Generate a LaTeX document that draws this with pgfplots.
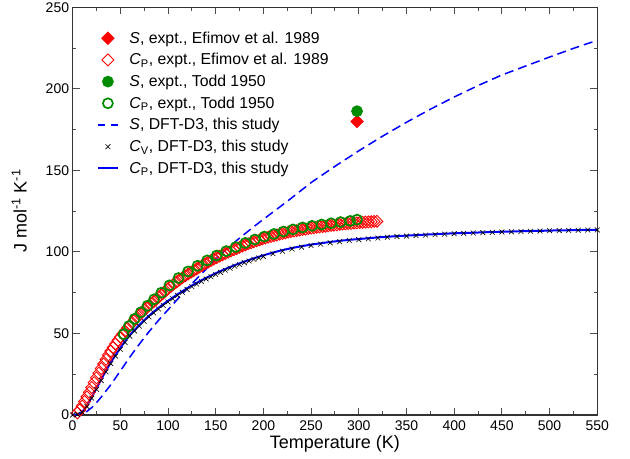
\documentclass[border=0pt]{standalone}
\usepackage{fontspec}
\setmainfont{Liberation Sans}
\usepackage{pgfplots}
\usepackage{pgfplotstable}
\pgfplotsset{compat=1.18}
\definecolor{grgreen}{RGB}{0,140,0}

% Cp, expt., Efimov et al. 1989
\pgfplotstableread{
T Cp
5 1.3
7.5 3.1
10 5.5
12.5 8.3
15 11.1
17.5 13.9
20 16.9
22.5 19.9
25 22.8
27.5 25.7
30 28.5
32.5 31.3
35 34.1
37.5 36.8
40 39.2
42.5 41.4
45 43.6
47.5 45.8
50 47.8
52.5 49.7
55 51.5
57.5 53.3
60 55.0
62.5 56.6
65 58.3
67.5 59.9
70 61.5
72.5 62.9
75 64.4
77.5 65.7
80 67.0
82.5 68.2
85 69.5
87.5 70.8
90 72.2
92.5 73.5
95 74.8
97.5 76.1
100 77.4
103 78.9
106 80.3
109 81.6
112 82.9
115 84.1
118 85.3
121 86.4
124 87.5
127 88.6
130 89.6
133 90.7
136 91.7
139 92.7
142 93.7
145 94.7
148 95.6
151 96.5
154 97.4
157 98.2
160 99.0
163 99.8
166 100.6
169 101.4
172 102.1
175 102.8
178 103.6
181 104.3
184 105.0
187 105.6
190 106.2
193 106.8
196 107.4
199 108.0
202 108.5
205 109.0
208 109.5
211 110.0
214 110.4
217 110.9
220 111.3
223 111.7
226 112.1
229 112.5
232 112.8
235 113.1
238 113.4
241 113.7
244 114.0
247 114.3
250 114.6
253 114.8
256 115.1
259 115.3
262 115.5
265 115.7
268 116.0
271 116.2
274 116.4
277 116.6
280 116.9
283 117.1
286 117.2
289 117.4
292 117.5
295 117.7
298 117.8
301 118.0
304 118.1
307 118.3
310 118.4
313 118.5
316 118.7
319 118.8
}\efimov

% Cp, expt., Todd 1950
\pgfplotstableread{
T Cp
53.5 49.5
59 54.5
65 59.0
71.5 63.0
78.5 67.0
85.5 71.0
93 75.0
101.5 79.5
111 84.0
121 88.0
131 91.5
141 94.8
151 97.8
161 100.5
171 103.0
181 105.5
191 107.6
201 109.4
211 111.0
221 112.5
231 113.8
241 115.0
251 116.0
261 116.8
271 117.6
281 118.3
291 119.0
298.2 119.8
}\todd

% S, DFT-D3
\pgfplotstableread{
T S
0 0
5 0.1
10 0.7
15 2.2
20 4.5
25 7.5
30 11.0
40 18.5
50 27.0
60 35.5
70 43.5
80 51.0
90 58.0
100 64.5
110 71.0
120 77.5
130 83.5
140 89.5
150 95.5
160 101.0
175 108.5
190 115.5
200 120.0
225 131.0
250 142.5
275 152.5
300 162.0
325 171.0
350 179.5
375 187.5
400 195.0
425 202.0
450 208.5
475 214.0
500 219.5
525 224.8
550 229.8
}\sdft

% Cp and Cv, DFT-D3
\pgfplotstableread{
T Cp Cv
0 0 0
5 0.3 0.3
10 1.8 1.7
15 5.5 5.2
20 10.8 10.3
25 16.3 15.7
30 21.8 21.1
35 27.2 26.5
40 32.2 31.5
45 36.8 36.1
50 41.0 40.3
55 45.2 44.5
60 49.0 48.3
65 52.2 51.5
70 55.2 54.5
75 58.1 57.4
80 60.8 60.1
85 63.3 62.6
90 65.7 65.0
95 67.9 67.2
100 70.0 69.3
105 72.0 71.3
110 74.0 73.3
115 75.9 75.2
120 77.7 77.0
125 79.4 78.7
130 81.0 80.3
135 82.6 81.9
140 84.1 83.4
145 85.5 84.8
150 86.9 86.2
155 88.2 87.5
160 89.5 88.8
165 90.7 90.0
170 91.9 91.2
175 93.0 92.3
180 94.1 93.4
185 95.1 94.4
190 96.1 95.4
195 97.0 96.3
200 97.9 97.2
210 99.6 98.9
220 101.1 100.4
230 102.4 101.8
240 103.5 102.9
250 104.5 103.9
260 105.3 104.8
270 106.1 105.6
280 106.8 106.3
290 107.4 107.0
300 107.9 107.5
310 108.4 108.0
320 108.9 108.5
330 109.3 109.0
340 109.7 109.4
350 110.0 109.7
360 110.3 110.0
370 110.6 110.3
380 110.9 110.6
390 111.2 110.9
400 111.4 111.2
410 111.6 111.4
420 111.8 111.6
430 112.0 111.8
440 112.2 112.0
450 112.4 112.2
460 112.5 112.3
470 112.7 112.5
480 112.8 112.7
490 112.9 112.8
500 113.1 113.0
510 113.2 113.1
520 113.3 113.2
530 113.4 113.3
540 113.5 113.4
550 113.6 113.5
}\cdft

\begin{document}
\begin{tikzpicture}
\useasboundingbox (-72.6bp,-44bp) rectangle (557.4bp,415bp);
\begin{axis}[
  anchor=south west, at={(0,0)},
  scale only axis,
  width=524.7bp, height=407.7bp,
  xmin=0, xmax=550, ymin=0, ymax=250,
  xtick={0,50,...,550}, ytick={0,50,...,250},
  minor x tick num=1, minor y tick num=1,
  tick align=inside,
  major tick length=7bp, minor tick length=3.5bp,
  axis line style={line width=1.4bp, black!80},
  tick style={line width=0.9bp, black!70},
  tick label style={font=\fontsize{14bp}{16bp}\selectfont},
  /pgf/number format/assume math mode=true,
  xticklabel style={anchor=base, yshift=-15.7bp},
  xlabel={Temperature (K)},
  ylabel={J mol\textsuperscript{-1} K\textsuperscript{-1}},
  label style={font=\fontsize{18bp}{20bp}\selectfont},
  xlabel style={at={(axis description cs:0.5,0)}, anchor=base, yshift=-33bp},
  ylabel style={at={([xshift=-46bp]axis description cs:0,0.5)}, anchor=base},
  clip=false,
  legend cell align=left,
  legend style={at={(axis description cs:0,1)}, anchor=north west,
    xshift=24.1bp, yshift=-19.85bp, draw=none, fill=none, inner sep=0pt,
    row sep=0pt, font=\fontsize{15.8bp}{18bp}\selectfont,
    nodes={inner sep=2bp, text depth=0.15em}},
  legend image code/.code={
    \path[draw=none, fill=none] (0bp,-10.85bp) rectangle (29.6bp,10.85bp);
    \draw[#1] plot coordinates {(10bp,0bp)};
  },
]
\addplot[only marks, mark=square*, mark size=4.5bp, mark options={rotate=45, draw=red, fill=red, line width=0.5bp}]
  coordinates {(298.15,180.0)};
\addlegendentry{\textit{S}, expt., Efimov et al. 1989}

\addplot[only marks, mark=square, mark size=4.2bp, mark options={rotate=45, draw=red, line width=0.9bp}]
  table[x=T, y=Cp] {\efimov};
\addlegendentry{\textit{C}\textsubscript{P}, expt., Efimov et al. 1989}

\addplot[only marks, mark=*, mark size=5.6bp, mark options={draw=grgreen, fill=grgreen, line width=0.5bp}]
  coordinates {(298.15,186.3)};
\addlegendentry{\textit{S}, expt., Todd 1950}

\addplot[only marks, mark=o, mark size=5bp, mark options={draw=grgreen, line width=1.7bp}]
  table[x=T, y=Cp] {\todd};
\addlegendentry{\textit{C}\textsubscript{P}, expt., Todd 1950}

\addplot[no markers, blue, line width=1.5bp, dash pattern=on 9bp off 5bp,
  legend image code/.code={
    \path[draw=none, fill=none] (0bp,-10.85bp) rectangle (29.6bp,10.85bp);
    \draw[blue, line width=1.5bp, dash pattern=on 6.7bp off 6.6bp] (0bp,0bp) -- (20bp,0bp);}]
  table[x=T, y=S] {\sdft};
\addlegendentry{\textit{S}, DFT-D3, this study}

\addplot[only marks, mark=x, mark size=3.4bp, mark options={draw=black, line width=0.6bp}]
  table[x=T, y=Cv] {\cdft};
\addlegendentry{\textit{C}\textsubscript{V}, DFT-D3, this study}

\addplot[no markers, blue, line width=2bp,
  legend image code/.code={
    \path[draw=none, fill=none] (0bp,-10.85bp) rectangle (29.6bp,10.85bp);
    \draw[blue, line width=2bp] (0bp,0bp) -- (20bp,0bp);}]
  table[x=T, y=Cp] {\cdft};
\addlegendentry{\textit{C}\textsubscript{P}, DFT-D3, this study}
\end{axis}
\end{tikzpicture}
\end{document}
